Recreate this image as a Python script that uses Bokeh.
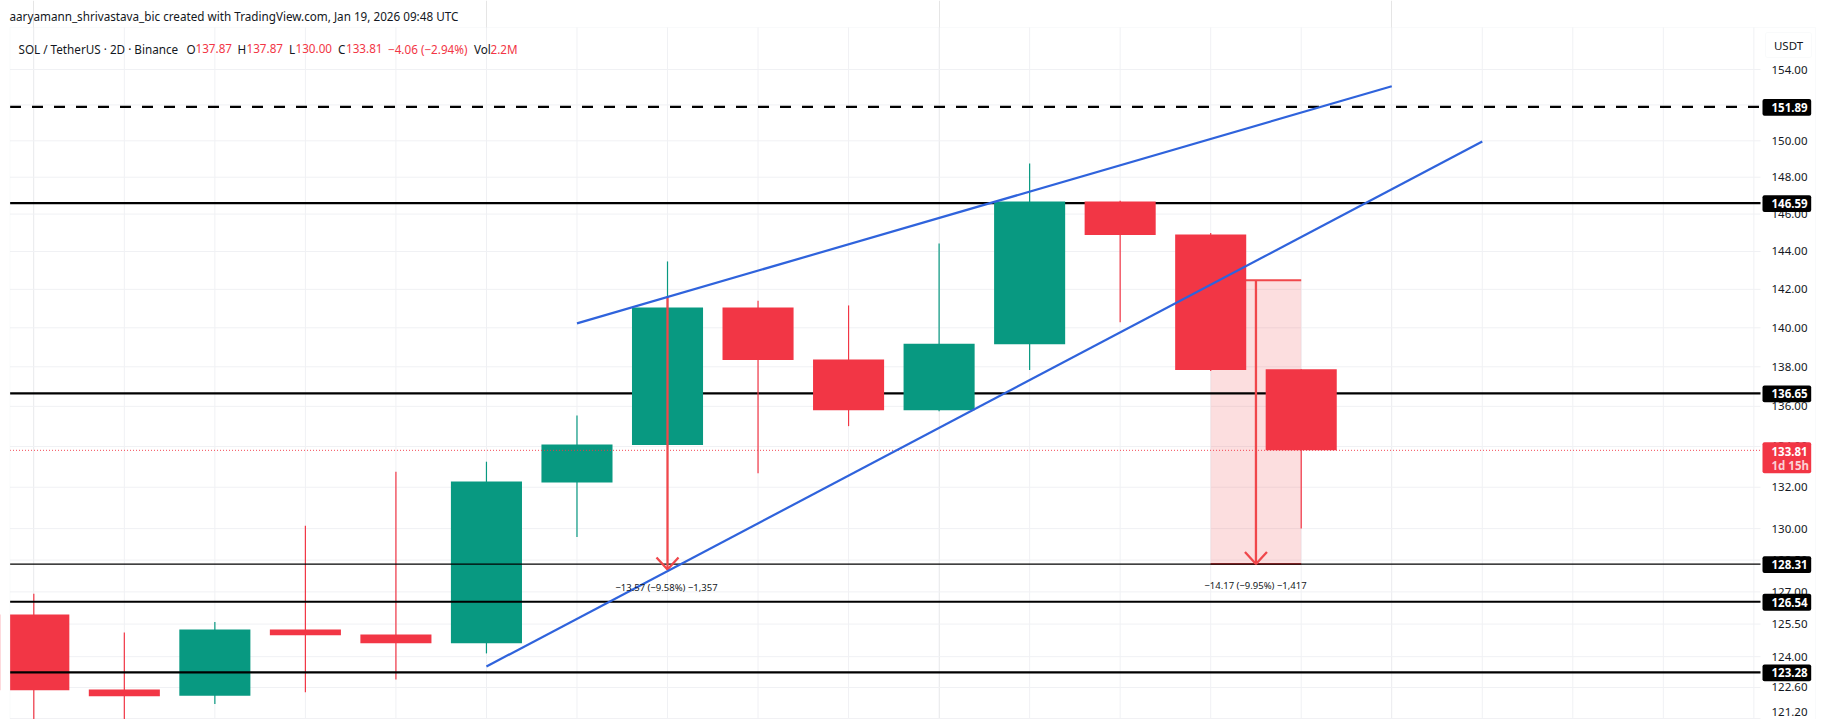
from bokeh.plotting import figure
from bokeh.embed import file_html
from bokeh.resources import INLINE
from bokeh.models import FixedTicker, Label, NumeralTickFormatter, Range1d, BoxAnnotation
import math

# ---- data ----
bar_index = list(range(15))
opens  = [125.94, 122.51, 122.23, 125.25, 125.02, 124.62, 132.23, 134.07, 141.05, 138.37, 135.81, 139.15, 146.68, 144.90, 137.87]
closes = [122.47, 122.20, 125.25, 124.99, 124.62, 132.28, 134.10, 141.05, 138.34, 135.81, 139.18, 146.68, 144.87, 137.83, 133.81]
highs  = [126.91, 125.11, 125.60, 130.14, 132.76, 133.25, 135.54, 143.47, 141.41, 141.16, 144.42, 148.75, 146.72, 144.99, 137.87]
lows   = [120.80, 120.80, 121.85, 122.38, 122.96, 124.15, 129.60, 134.07, 132.68, 135.01, 135.76, 137.83, 140.29, 137.78, 130.00]

y_ticks = [154, 152, 150, 148, 146, 144, 142, 140, 138, 136, 134, 132, 130, 128.5, 127, 125.5, 124, 122.6]
edge_tick = 121.2
grid_bars = list(range(20))

thick_levels = [146.59, 136.65, 126.54, 123.28]
thin_levels = [128.31]
dashed_level = 151.89
last_price = 133.81

upper_x = [6, 15]
upper_y = [140.23, 153.05]
lower_x = [5, 16]
lower_y = [123.55, 149.96]

measure1_x = 7
measure1_y = [141.62, 128.05]
measure1_text = "\u221213.57 (\u22129.58%) \u22121,357"
measure2_x = [13, 14]
measure2_y = [142.48, 128.31]
measure2_text = "\u221214.17 (\u22129.95%) \u22121,417"

tag_levels = [151.89, 146.59, 136.65, 128.31, 126.54, 123.28]

header = "aaryamann_shrivastava_bic created with TradingView.com, Jan 19, 2026 09:48 UTC"
symbol = "SOL / TetherUS \u00b7 2D \u00b7 Binance"
legend_parts = [("O", 186, "k"), ("137.87", 195, "r"), ("H", 237, "k"), ("137.87", 246, "r"),
                ("L", 288.5, "k"), ("130.00", 295, "r"), ("C", 337.5, "k"), ("133.81", 345.5, "r"),
                ("\u22124.06 (\u22122.94%)", 387.5, "r"), ("Vol", 473.5, "k"), ("2.2M", 490, "r")]

# ---- style ----
RED = "#f23645"
GREEN = "#089981"
BLUE = "#2f63dc"
MEASURE = "#f0474b"
INK = "#131722"
GRID = "#f0f1f4"
FONT = "Noto Sans"

W, H = 1825, 719
PX0, BAR_PX = 33.3, 90.53        # px of bar 0, px per bar
L, R, T = 9.5, 1760, 27          # pane edges in px
P154, PX_LOG = 69, 2710

def price_at(y):
    return 154 * math.exp(-(y - P154) / PX_LOG)
def y_of(price):
    return P154 + PX_LOG * math.log(154 / price)
def bar_at(x):
    return (x - PX0) / BAR_PX

p = figure(width=W, height=H, output_backend="svg", toolbar_location=None,
           x_axis_location=None, y_axis_location="right", y_axis_type="log",
           x_range=Range1d(bar_at(0), bar_at(W)),
           y_range=Range1d(price_at(H), price_at(0)),
           min_border_left=0, min_border_right=0, min_border_top=0, min_border_bottom=0)
p.outline_line_color = None
p.background_fill_color = "white"
p.border_fill_color = "white"
p.ygrid.visible = False

ax = p.yaxis[0]
ax.fixed_location = bar_at(R)
ax.ticker = FixedTicker(ticks=y_ticks)
ax.formatter = NumeralTickFormatter(format="0.00")
ax.major_tick_line_color = None
ax.minor_tick_line_color = None
ax.axis_line_color = None
ax.major_tick_in = 0
ax.major_tick_out = 0
ax.major_label_standoff = 11
ax.major_label_text_font = FONT
ax.major_label_text_font_size = "11.5px"
ax.major_label_text_color = INK

pane_l, pane_r, pane_t, pane_b = bar_at(L), bar_at(R), price_at(T), price_at(H)

# grid
grid_levels = y_ticks + [edge_tick]
p.segment(x0=pane_l, x1=pane_r, y0=grid_levels, y1=grid_levels, line_color=GRID, line_width=1)
p.segment(x0=grid_bars, x1=grid_bars, y0=pane_b, y1=pane_t, line_color=GRID, line_width=1)

# measure box (under candles)
p.quad(left=[measure2_x[0]], right=[measure2_x[1]], top=[measure2_y[0]], bottom=[measure2_y[1]],
       fill_color=MEASURE, fill_alpha=0.18, line_color=None)
p.segment(x0=[measure2_x[0]] * 2, x1=[measure2_x[1]] * 2, y0=measure2_y, y1=measure2_y,
          line_color=MEASURE, line_width=2)

# levels under candles
p.segment(x0=pane_l, x1=pane_r, y0=thick_levels[:2], y1=thick_levels[:2], line_color="black", line_width=2.2)

# candles
up_i = [i for i in bar_index if closes[i] >= opens[i]]
dn_i = [i for i in bar_index if closes[i] < opens[i]]
for idx, col in ((up_i, GREEN), (dn_i, RED)):
    p.segment(x0=[bar_index[i] for i in idx], x1=[bar_index[i] for i in idx],
              y0=[lows[i] for i in idx], y1=[highs[i] for i in idx], line_color=col, line_width=1.2)
    p.vbar(x=[bar_index[i] for i in idx], width=0.785,
           top=[max(opens[i], closes[i]) for i in idx],
           bottom=[min(opens[i], closes[i]) for i in idx],
           fill_color=col, line_color=None)

# levels over candles
p.segment(x0=pane_l, x1=pane_r, y0=thick_levels[2:], y1=thick_levels[2:], line_color="black", line_width=2.2)
p.segment(x0=pane_l, x1=pane_r, y0=thin_levels, y1=thin_levels, line_color="black", line_width=1.3)
p.line([pane_l, pane_r], [dashed_level] * 2, line_color="black", line_width=2.2, line_dash=[11, 11])
p.line([pane_l, pane_r], [last_price] * 2, line_color=RED, line_width=1, line_dash=[1, 2], line_alpha=0.9)

# measure arrows: shaft and an open head
def arrow(x, y_start, y_end):
    p.line([x, x], [y_start, y_end], line_color=MEASURE, line_width=2.3)
    tip_y = y_of(y_end)
    dx = 11 / BAR_PX
    up = price_at(tip_y - 12)
    p.line([x - dx, x, x + dx], [up, y_end, up], line_color=MEASURE, line_width=2.3)

arrow(measure1_x, measure1_y[0], measure1_y[1])
arrow(sum(measure2_x) / 2, measure2_y[0], measure2_y[1])

# trend lines
p.line(upper_x, upper_y, line_color=BLUE, line_width=2.2)
p.line(lower_x, lower_y, line_color=BLUE, line_width=2.2)

# left mask of the pane (first candle is cut there) and pane border
p.add_layout(BoxAnnotation(left=0, right=L, top=0, bottom=H + 5, left_units="canvas", right_units="canvas",
                           top_units="canvas", bottom_units="canvas", fill_color="white", fill_alpha=1,
                           line_color=None, level="glyph"))
p.add_layout(BoxAnnotation(left=L, right=1815, top=T, bottom=H + 5, left_units="canvas", right_units="canvas",
                           top_units="canvas", bottom_units="canvas", fill_alpha=0, line_color="#eceef1",
                           line_width=1))

def text(txt, x, y, color=INK, size="11.7px", align="left", **kw):
    p.add_layout(Label(x=x, y=y, x_units="canvas", y_units="canvas", text=txt, text_color=color,
                       text_font=FONT, text_font_size=size, text_align=align,
                       text_baseline="middle", **kw))

def box(left, right, top, bottom, fill, line=None):
    p.add_layout(BoxAnnotation(left=left, right=right, top=top, bottom=bottom, left_units="canvas",
                               right_units="canvas", top_units="canvas", bottom_units="canvas",
                               fill_color=fill, fill_alpha=1, line_color=line, line_width=1, border_radius=2))

text(measure1_text, 666, 587, size="9.5px", align="center")
text(measure2_text, 1255, 585, size="9.5px", align="center")

# headers
text(header, 9, 15)
text(symbol, 18, 48)
for t, x, c in legend_parts:
    text(t, x, 48, color=RED if c == "r" else INK)

# lowest axis label sits at the picture's edge, so it is lifted to stay whole
text(f"{edge_tick:.2f}", 1771, 711, size="11.5px")

# price tags
for lv in tag_levels:
    yc = y_of(lv) + 0.5
    box(1762, 1810.7, yc - 8.4, yc + 8.4, "#000000")
    text(f"{lv:.2f}", 1771, yc, color="white", size="11.5px", text_font_style="bold")
box(1762, 1810.7, 441.7, 472.7, RED)
text(f"{last_price:.2f}", 1771, 450.5, color="white", size="11.5px", text_font_style="bold")
text("1d 15h", 1771, 465, color="#fbd0d4", size="11.5px", text_font_style="bold")

# USDT button
box(1765, 1811, 32, 57, "white", line="#eceef1")
text("USDT", 1788, 44.5, size="11.5px", align="center")

open("out.html", "w").write(file_html(p, INLINE))
